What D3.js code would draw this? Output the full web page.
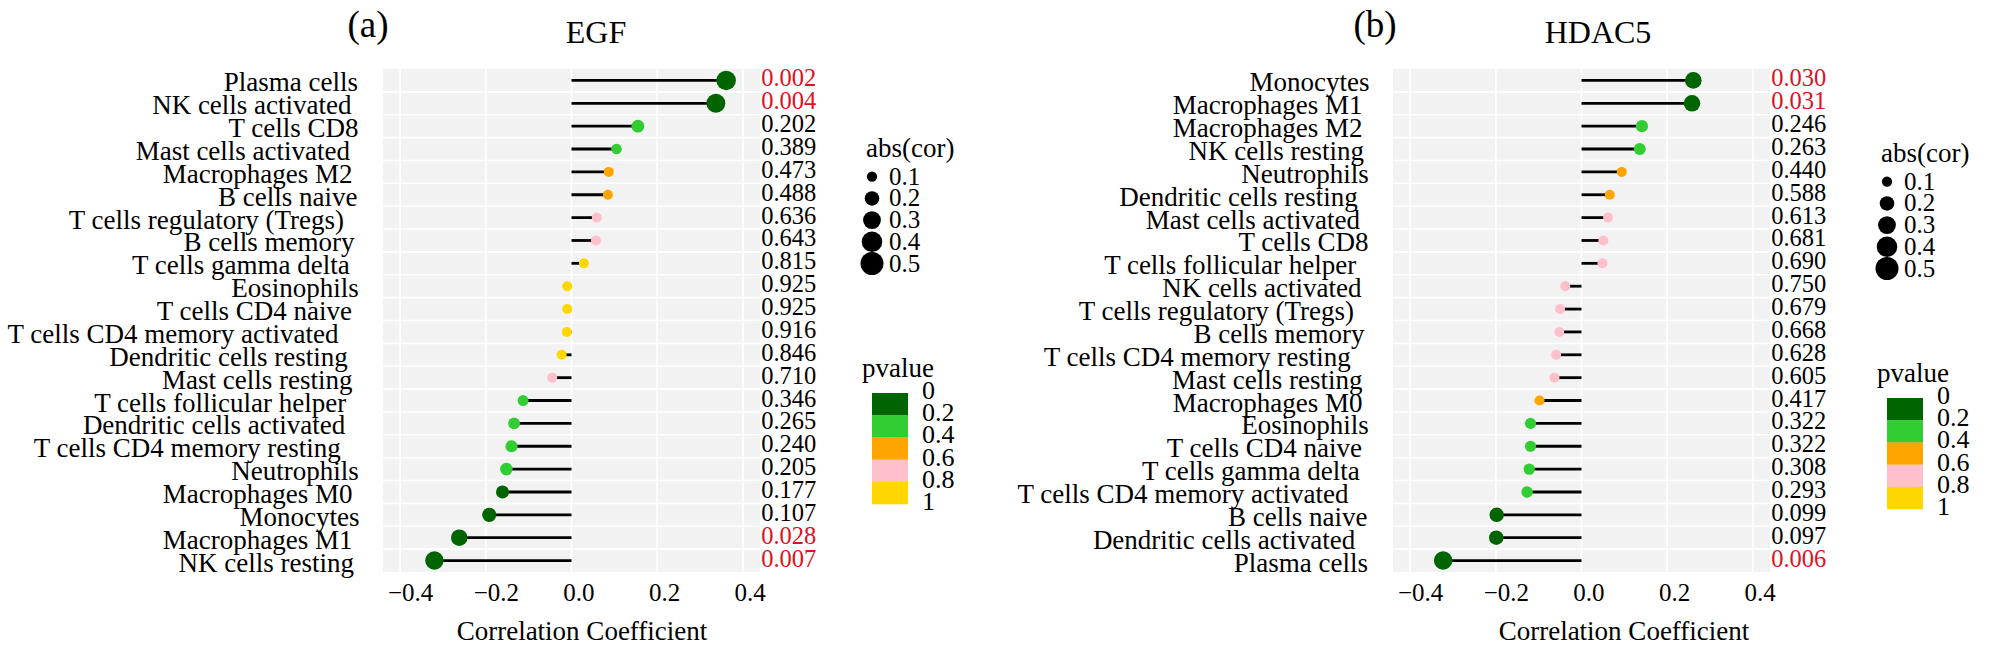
<!DOCTYPE html>
<html><head><meta charset="utf-8">
<script src="https://cdn.jsdelivr.net/npm/d3@7"></script>
<style>
body{margin:0;background:#fff}
svg{display:block}
text{font-family:"Liberation Serif","Times New Roman",serif;fill:#000}
</style>
</head><body>
<svg id="chart" width="2000" height="652"></svg>
<script>
// ---------- data ----------
const cellsA = ["Plasma cells","NK cells activated","T cells CD8","Mast cells activated","Macrophages M2","B cells naive","T cells regulatory (Tregs)","B cells memory","T cells gamma delta","Eosinophils","T cells CD4 naive","T cells CD4 memory activated","Dendritic cells resting","Mast cells resting","T cells follicular helper","Dendritic cells activated","T cells CD4 memory resting","Neutrophils","Macrophages M0","Monocytes","Macrophages M1","NK cells resting"];
const corA = [0.361,0.337,0.155,0.105,0.087,0.085,0.059,0.057,0.029,-0.010,-0.010,-0.011,-0.023,-0.045,-0.113,-0.134,-0.140,-0.152,-0.161,-0.192,-0.262,-0.320];
const pA = [0.002,0.004,0.202,0.389,0.473,0.488,0.636,0.643,0.815,0.925,0.925,0.916,0.846,0.710,0.346,0.265,0.240,0.205,0.177,0.107,0.028,0.007];

const cellsB = ["Monocytes","Macrophages M1","Macrophages M2","NK cells resting","Neutrophils","Dendritic cells resting","Mast cells activated","T cells CD8","T cells follicular helper","NK cells activated","T cells regulatory (Tregs)","B cells memory","T cells CD4 memory resting","Mast cells resting","Macrophages M0","Eosinophils","T cells CD4 naive","T cells gamma delta","T cells CD4 memory activated","B cells naive","Dendritic cells activated","Plasma cells"];
const corB = [0.261,0.258,0.141,0.136,0.094,0.066,0.062,0.051,0.049,-0.038,-0.050,-0.052,-0.059,-0.063,-0.098,-0.119,-0.119,-0.122,-0.127,-0.198,-0.199,-0.323];
const pB = [0.030,0.031,0.246,0.263,0.440,0.588,0.613,0.681,0.690,0.750,0.679,0.668,0.628,0.605,0.417,0.322,0.322,0.308,0.293,0.099,0.097,0.006];

const genes = ["EGF","HDAC5"];
const tags = ["(a)","(b)"];
const xTicks = [-0.4,-0.2,0,0.2,0.4];
const sizeBreaks = [0.1,0.2,0.3,0.4,0.5];
const pBreaks = [0,0.2,0.4,0.6,0.8,1];
const pColors = ["#006400","#32CD32","#FFA500","#FFC0CB","#FFD700"];
const axisTitle = "Correlation Coefficient";

// ---------- setup ----------
const svg = d3.select("#chart");
svg.append("rect").attr("width",2000).attr("height",652).attr("fill","#fff");

const colorScale = d3.scaleThreshold().domain(pBreaks.slice(1,-1)).range(pColors);
const sizeScale = d3.scaleSqrt().domain([0,0.5]).range([0,11.5]);
const radius = v => Math.max(5, sizeScale(Math.abs(v)));
const fmtP = d3.format(".3f");

const panels = [
  {cells:cellsA, cor:corA, p:pA, gene:genes[0], tag:tags[0], left:383, tagX:368, titleX:596, axTitleX:582, legDx:0, legDy:0},
  {cells:cellsB, cor:corB, p:pB, gene:genes[1], tag:tags[1], left:1393, tagX:1375, titleX:1598, axTitleX:1624, legDx:1015, legDy:5}
];

const PW = 377, PT = 69, PH = 503;

panels.forEach(P => {
  const g = svg.append("g").attr("transform",`translate(${P.left},${PT})`);
  const x = d3.scaleLinear().domain([-0.44,0.44]).range([0,PW]);
  const y = d3.scalePoint().domain(P.cells).range([0,PH]).padding(0.5);
  const step = y.step();

  g.append("rect").attr("width",PW).attr("height",PH).attr("fill","#f2f2f2");
  g.selectAll(".vg").data(xTicks).join("line")
    .attr("x1",d=>x(d)).attr("x2",d=>x(d)).attr("y1",0).attr("y2",PH)
    .attr("stroke","#fff").attr("stroke-width",1.6);
  g.selectAll(".hg").data(P.cells.slice(1)).join("line")
    .attr("x1",0).attr("x2",PW).attr("y1",d=>y(d)-step/2).attr("y2",d=>y(d)-step/2)
    .attr("stroke","#fff").attr("stroke-width",1.6);

  const rows = P.cells.map((c,i)=>({c, v:P.cor[i], p:P.p[i]}));

  g.selectAll(".stem").data(rows).join("line")
    .attr("x1",x(0)).attr("x2",d=>x(d.v)).attr("y1",d=>y(d.c)).attr("y2",d=>y(d.c))
    .attr("stroke","#000").attr("stroke-width",2.8);
  g.selectAll(".pt").data(rows).join("circle")
    .attr("cx",d=>x(d.v)).attr("cy",d=>y(d.c)).attr("r",d=>radius(d.v))
    .attr("fill",d=>colorScale(d.p));

  // p-value text
  g.selectAll(".pv").data(rows).join("text")
    .attr("x",x(0.5)+3).attr("y",d=>y(d.c)+6)
    .attr("text-anchor","middle").attr("font-size",24.5)
    .style("fill",d=>d.p<0.05?"#e0101e":"#000")
    .text(d=>fmtP(d.p));

  // y labels (right alignment slightly overshooting, as in the original)
  const anchorX = -11.5;
  g.selectAll(".yl").data(rows).join("text")
    .attr("y",d=>y(d.c)+11)
    .attr("text-anchor","end").attr("font-size",27)
    .text(d=>d.c)
    .each(function(){ const L=this.getComputedTextLength(); d3.select(this).attr("x",anchorX-0.1*L); });

  // x axis
  const ax = g.append("g").attr("transform",`translate(0,${PH})`)
    .call(d3.axisBottom(x).tickValues(xTicks).tickSize(0).tickPadding(11).tickFormat(d3.format(".1f")));
  ax.select(".domain").remove();
  ax.selectAll("text").attr("font-size",25).attr("font-family",null).style("fill","#000")
    .each(function(){ const L=this.getComputedTextLength(); d3.select(this).attr("dx",0.22*L); });

  // axis title
  svg.append("text").attr("x",P.axTitleX).attr("y",640).attr("text-anchor","middle")
    .attr("font-size",27).text(axisTitle);
  // panel tag & gene title
  svg.append("text").attr("x",P.tagX).attr("y",37).attr("text-anchor","middle")
    .attr("font-size",37).text(P.tag);
  svg.append("text").attr("x",P.titleX).attr("y",43).attr("text-anchor","middle")
    .attr("font-size",32).text(P.gene);

  // legends
  const lg = svg.append("g").attr("transform",`translate(${P.legDx},${P.legDy})`);
  lg.append("text").attr("x",866).attr("y",157).attr("font-size",27).text("abs(cor)");
  sizeBreaks.forEach((b,i)=>{
    const cy = 176.7 + i*21.7;
    lg.append("circle").attr("cx",872).attr("cy",cy).attr("r",sizeScale(b)).attr("fill","#000");
    lg.append("text").attr("x",889).attr("y",cy+8).attr("font-size",25).text(b);
  });
  lg.append("text").attr("x",862).attr("y",377).attr("font-size",27).text("pvalue");
  const segH = 22.2, barTop = 393;
  pColors.forEach((c,i)=>{
    lg.append("rect").attr("x",872).attr("y",barTop+i*segH).attr("width",36).attr("height",segH+0.3).attr("fill",c);
  });
  pBreaks.forEach((b,i)=>{
    lg.append("text").attr("x",922).attr("y",barTop+i*segH+6).attr("font-size",26).text(b);
  });
});
</script>
</body></html>
